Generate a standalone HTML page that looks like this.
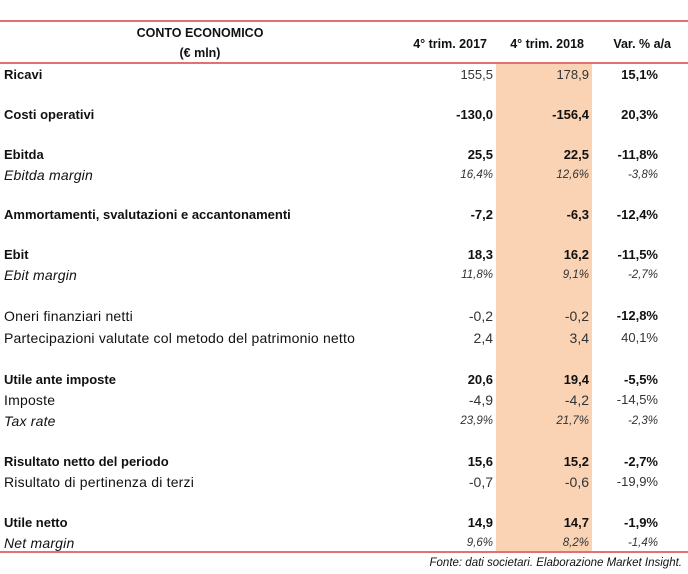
<!DOCTYPE html>
<html><head><meta charset="utf-8"><style>
body{margin:0;width:688px;height:574px;background:#fff;position:relative;overflow:hidden;font-family:"Liberation Sans",sans-serif;font-size:13px;color:#111}
.line{position:absolute;left:0;width:688px;height:2px;background:#e27272}
.hl{position:absolute;left:496px;width:96px;top:64px;height:487px;background:#f9d3b4}
.t{position:absolute;white-space:nowrap;line-height:16px}
.r{text-align:right}
.b{font-weight:bold}.i{font-style:italic}.l{color:#333}
</style></head><body>
<div class="line" style="top:20px"></div>
<div class="line" style="top:62px"></div>
<div class="line" style="top:551px"></div>
<div class="hl"></div>
<div class="t b" style="left:100px;width:200px;text-align:center;top:25px;font-size:12.5px">CONTO ECONOMICO</div>
<div class="t b" style="left:100px;width:200px;text-align:center;top:45px;font-size:12.5px">(€ mln)</div>
<div class="t b r" style="right:201px;top:36px;font-size:12.5px">4° trim. 2017</div>
<div class="t b r" style="right:104px;top:36px;font-size:12.5px">4° trim. 2018</div>
<div class="t b r" style="right:17px;top:36px;font-size:12.5px">Var. % a/a</div>
<div id="rows"></div>
<div class="t i r" style="right:6px;top:555px;font-size:11.5px">Fonte: dati societari. Elaborazione Market Insight.</div>
<script>
const labels=["Ricavi","Costi operativi","Ebitda","Ebitda margin","Ammortamenti, svalutazioni e accantonamenti","Ebit","Ebit margin","Oneri finanziari netti","Partecipazioni valutate col metodo del patrimonio netto","Utile ante imposte","Imposte","Tax rate","Risultato netto del periodo","Risultato di pertinenza di terzi","Utile netto","Net margin"];
const v2017=["155,5","-130,0","25,5","16,4%","-7,2","18,3","11,8%","-0,2","2,4","20,6","-4,9","23,9%","15,6","-0,7","14,9","9,6%"];
const v2018=["178,9","-156,4","22,5","12,6%","-6,3","16,2","9,1%","-0,2","3,4","19,4","-4,2","21,7%","15,2","-0,6","14,7","8,2%"];
const vVar=["15,1%","20,3%","-11,8%","-3,8%","-12,4%","-11,5%","-2,7%","-12,8%","40,1%","-5,5%","-14,5%","-2,3%","-2,7%","-19,9%","-1,9%","-1,4%"];
const styles=["bl","b","b","i","b","b","i","n","n","b","n","i","b","n","b","i"];
const rowY=[75,115,155,175,215,255,275,316,338,380,400,421,462,482,523,543];
const root=document.getElementById('rows');
function mk(txt,cls,css){const d=document.createElement('div');d.className='t '+cls;d.textContent=txt;d.style.cssText=css;root.appendChild(d);return d;}
labels.forEach((lab,k)=>{
 const s=styles[k];const top=(rowY[k]-8)+'px';
 const lc=s==='i'?'i':(s==='n'?'':'b');
 const fs=s==='n'||s==='i'?';font-size:14px;letter-spacing:0.2px':'';
 const l=mk(lab,lc,'left:4px;top:'+top+fs);
 
 
 const vc=s==='i'?'i l':(s==='bl'||s==='n'?'l':'b');
 const vf=s==='i'?';font-size:11.5px':(s==='n'?';font-size:14px':'');
 const a=mk(v2017[k],'r '+vc,'right:195px;top:'+top+vf);
 
 
 const c=mk(v2018[k],'r '+vc,'right:99px;top:'+top+vf);
 
 
 const varc=(s==='i'||s==='n')&&k!==7?'l':'b';
 const e=mk(vVar[k],'r '+varc+(s==='i'?' i':''),'right:30px;top:'+top+(s==='i'?';font-size:11.5px':''));
 
 
});
</script>
</body></html>
